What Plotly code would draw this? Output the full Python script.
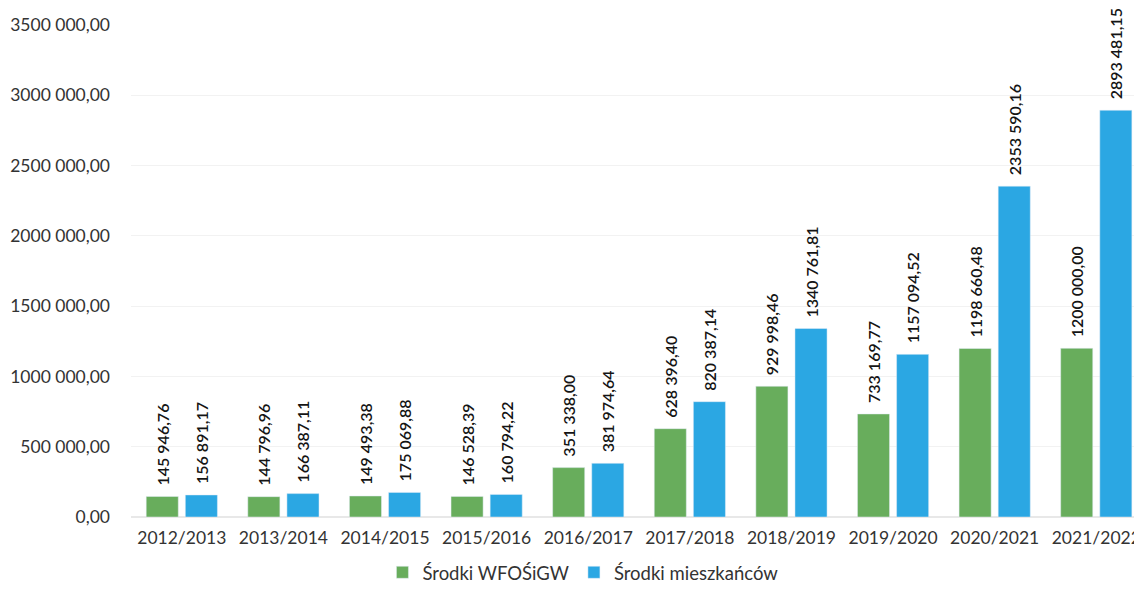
import plotly.graph_objects as go

categories = ["2012/2013", "2013/2014", "2014/2015", "2015/2016", "2016/2017",
              "2017/2018", "2018/2019", "2019/2020", "2020/2021", "2021/2022"]
wfos = [145946.76, 144796.96, 149493.38, 146528.39, 351338.00,
        628396.40, 929998.46, 733169.77, 1198660.48, 1200000.00]
mieszk = [156891.17, 166387.11, 175069.88, 160794.22, 381974.64,
          820387.14, 1340761.81, 1157094.52, 2353590.16, 2893481.15]
tick_vals = [0, 500000, 1000000, 1500000, 2000000, 2500000, 3000000, 3500000]
tick_text = ["0,00", "500 000,00", "1000 000,00", "1500 000,00", "2000 000,00",
             "2500 000,00", "3000 000,00", "3500 000,00"]


def fmt(v):
    cents = int(round(v * 100))
    whole, frac = divmod(cents, 100)
    th, rest = divmod(whole, 1000)
    s = f"{th} {rest:03d},{frac:02d}" if th else f"{rest},{frac:02d}"
    return "\u00a0\u00a0" + s


FONT = "Lato, 'Open Sans', sans-serif"
LBL = dict(size=16, color="#141414", family=FONT, weight=600)

fig = go.Figure()
fig.add_bar(x=categories, y=wfos, name="Środki WFOŚiGW", marker_color="#68ad5c",
            text=[fmt(v) for v in wfos], textposition="outside", textangle=-90,
            constraintext="none", textfont=LBL, cliponaxis=False)
fig.add_bar(x=categories, y=mieszk, name="Środki mieszkańców", marker_color="#2ba7e3",
            text=[fmt(v) for v in mieszk], textposition="outside", textangle=-90,
            constraintext="none", textfont=LBL, cliponaxis=False)

# page body has an 8px margin, so the figure is 8px smaller on each axis
fig.update_layout(
    width=1134, height=592,
    margin=dict(l=123, r=0, t=17, b=83, autoexpand=False),
    paper_bgcolor="white", plot_bgcolor="white",
    barmode="group", bargap=0.23, bargroupgap=0.18,
    font=dict(family=FONT, size=17, color="#333333"),
    legend=dict(orientation="h", xref="container", x=0.507, xanchor="center",
                yref="container", y=0.046, yanchor="middle",
                font=dict(size=18.5, color="#333333")),
    xaxis=dict(range=[-0.5, 9.45], showgrid=False, showline=False, ticks="",
               tickfont=dict(size=17.5), ticklabelstandoff=8, automargin=False),
    yaxis=dict(range=[0, 3500000], tickvals=tick_vals, ticktext=tick_text,
               showgrid=True, gridcolor="#f2f2f2", zeroline=True, zerolinecolor="#e8e8e8",
               tickfont=dict(size=17.5), ticks="", ticklabelstandoff=20, automargin=False),
)

fig.write_html("out.html")
